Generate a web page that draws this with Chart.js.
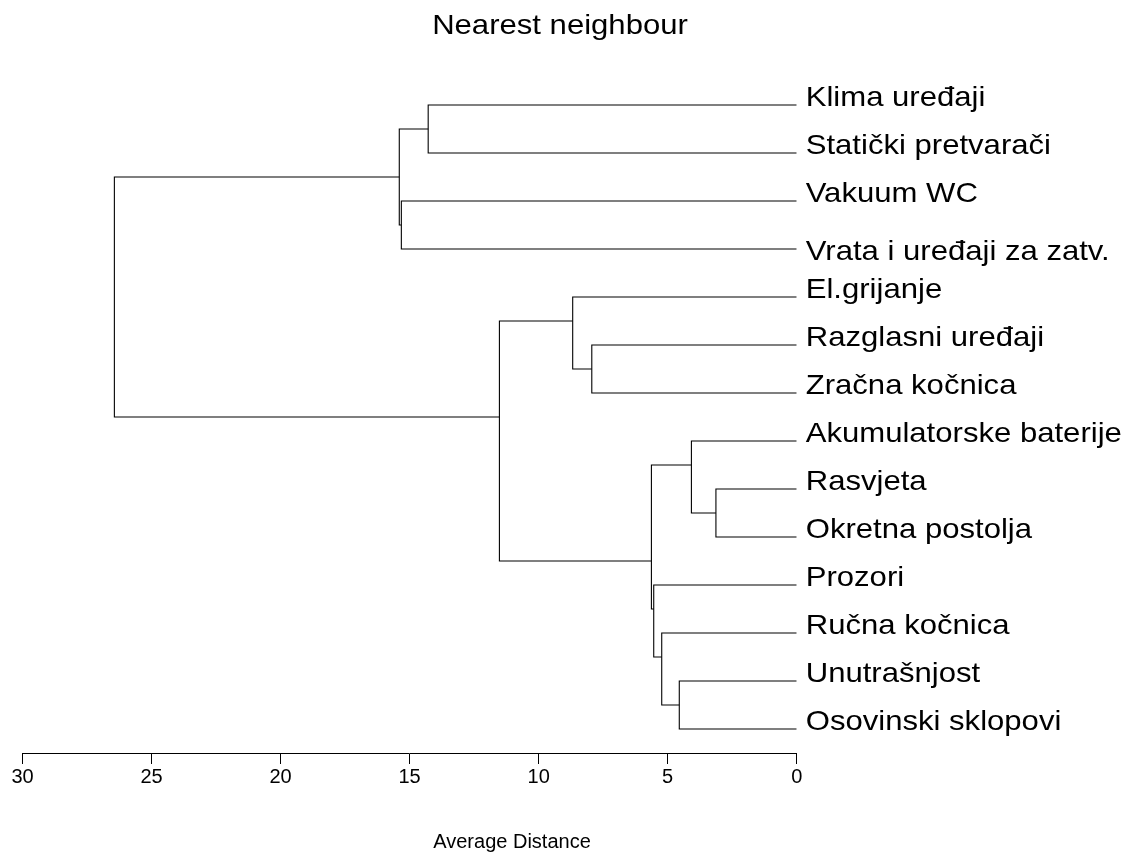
<!DOCTYPE html>
<html>
<head>
<meta charset="utf-8">
<title>Nearest neighbour</title>
<script src="https://cdn.jsdelivr.net/npm/chart.js@4.4.1/dist/chart.umd.min.js"></script>
<style>
  html, body { margin: 0; padding: 0; background: #fff; }
</style>
</head>
<body>
<canvas id="dendro" width="1128" height="853"></canvas>
<script>
// leaves, top to bottom as they appear in the dendrogram
const leafNames = [
  'Klima uređaji',
  'Statički pretvarači',
  'Vakuum WC',
  'Vrata i uređaji za zatv.',
  'El.grijanje',
  'Razglasni uređaji',
  'Zračna kočnica',
  'Akumulatorske baterije',
  'Rasvjeta',
  'Okretna postolja',
  'Prozori',
  'Ručna kočnica',
  'Unutrašnjost',
  'Osovinski sklopovi'
];

// merge steps: child ids are leaf indexes (0-13) or earlier merges (14 + step)
const mergeLeft   = [8, 7, 12, 11, 10, 15, 5, 4, 21, 0, 2, 23, 25];
const mergeRight  = [9, 14, 13, 16, 17, 18, 6, 20, 19, 1, 3, 24, 22];
const mergeHeight = [3.13, 4.08, 4.55, 5.23, 5.54, 5.63, 7.94, 8.68, 11.52, 14.28, 15.32, 15.40, 26.44];

const distanceTicks = [0, 5, 10, 15, 20, 25, 30];

// node info: height, row position, first and last leaf row
const nodes = leafNames.map((n, i) => ({ h: 0, pos: i, first: i, last: i }));
const datasets = [];
mergeHeight.forEach((h, k) => {
  const a = nodes[mergeLeft[k]];
  const b = nodes[mergeRight[k]];
  // join point sits between the two child blocks
  nodes.push({ h: h, pos: (a.last + b.first) / 2, first: a.first, last: b.last });
  datasets.push({
    data: [
      { x: a.h, y: a.pos },
      { x: h, y: a.pos },
      { x: h, y: b.pos },
      { x: b.h, y: b.pos }
    ],
    showLine: true,
    borderColor: '#000',
    borderWidth: 1.1,
    pointRadius: 0,
    tension: 0
  });
});

const FONT = '"Liberation Sans", Arial, sans-serif';

function wideText(ctx, str, px, py, size, align, stretch) {
  ctx.save();
  ctx.translate(px, py);
  ctx.scale(stretch, 1);
  ctx.font = size + 'px ' + FONT;
  ctx.textAlign = align;
  ctx.textBaseline = 'alphabetic';
  ctx.fillStyle = '#000';
  ctx.fillText(str, 0, 0);
  ctx.restore();
}

const textPlugin = {
  id: 'dendroText',
  afterDraw(chart) {
    const ctx = chart.ctx;
    const xs = chart.scales.x, ys = chart.scales.y;
    const x0 = xs.getPixelForValue(0) + 9;
    leafNames.forEach((name, i) => {
      let yy = ys.getPixelForValue(i) + 1;
      if (i === 3) yy += 10; // this label sits a bit lower in the original
      wideText(ctx, name, x0, yy, 28, 'left', 1.11);
    });
    wideText(ctx, 'Nearest neighbour', 560, 34, 28, 'center', 1.11);
    wideText(ctx, 'Average Distance', 512, 848, 20, 'center', 1);
  }
};

new Chart(document.getElementById('dendro'), {
  type: 'scatter',
  data: { datasets: datasets },
  options: {
    responsive: false,
    animation: false,
    devicePixelRatio: 1,
    layout: { padding: { left: 22.5, right: 331.3, top: 9, bottom: 0 } },
    plugins: { legend: { display: false }, tooltip: { enabled: false } },
    scales: {
      x: {
        type: 'linear',
        position: 'bottom',
        reverse: true,
        min: 0,
        max: 30,
        afterBuildTicks: s => { s.ticks = distanceTicks.map(v => ({ value: v })); },
        afterFit: s => { s.height = 100; },
        grid: { drawOnChartArea: false, drawTicks: true, tickLength: 11, color: '#000', lineWidth: 1 },
        border: { display: true, color: '#000', width: 1 },
        ticks: { color: '#000', padding: 1, font: { family: FONT, size: 20 }, maxRotation: 0 }
      },
      y: {
        type: 'linear',
        display: false,
        reverse: true,
        min: -2,
        max: 13.5
      }
    }
  },
  plugins: [textPlugin]
});
</script>
</body>
</html>
